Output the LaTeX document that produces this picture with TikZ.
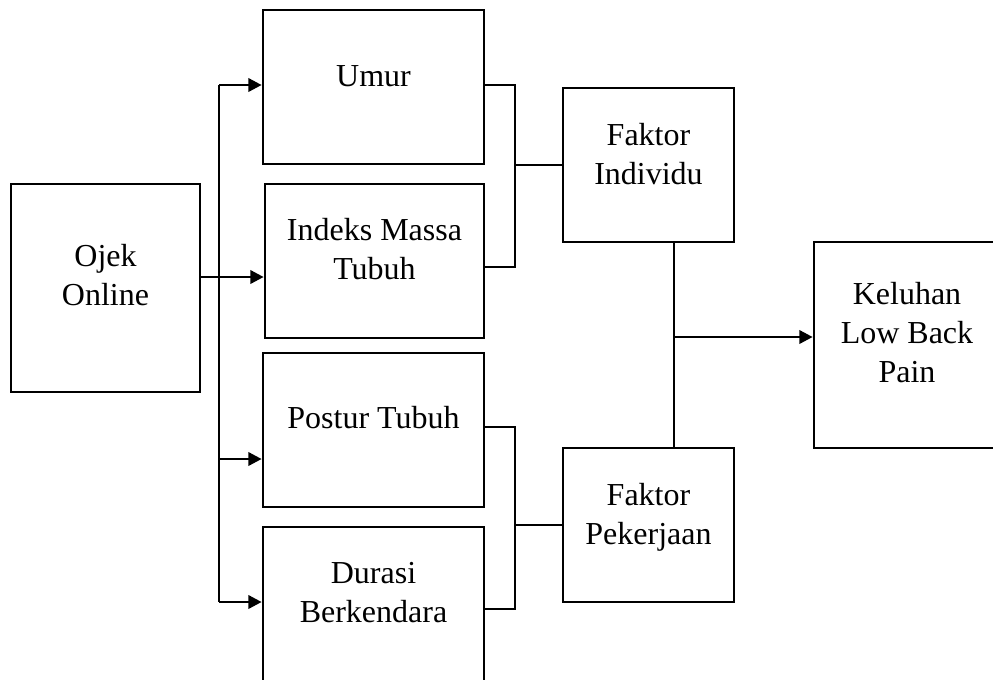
\documentclass[tikz,border=0pt]{standalone}
\usepackage{fontspec}
\setmainfont{Liberation Serif}
\usetikzlibrary{arrows.meta}
\begin{document}
\begin{tikzpicture}[x=0.75pt,y=-0.75pt,
  box/.style={draw, line width=2pt, inner sep=0pt, rectangle},
  lbl/.style={align=center, inner sep=0pt, font=\fontsize{24pt}{29.25pt}\selectfont},
  conn/.style={line width=2pt},
  arr/.style={line width=2pt, -{Triangle[length=10pt,width=10pt]}}
]
\useasboundingbox (0,0) rectangle (993,679);
\clip (0,0) rectangle (993,679);
% boxes
\node[box, minimum width=141.75pt, minimum height=156pt] (oj) at (105.5,288) {};
\node[box, minimum width=165.75pt, minimum height=115.5pt] (um) at (373.5,87) {};
\node[box, minimum width=164.25pt, minimum height=115.5pt] (im) at (374.5,261) {};
\node[box, minimum width=165.75pt, minimum height=115.5pt] (pt) at (373.5,430) {};
\node[box, minimum width=165.75pt, minimum height=115.5pt] (du) at (373.5,604) {};
\node[box, minimum width=128.25pt, minimum height=115.5pt] (fi) at (648.5,165) {};
\node[box, minimum width=128.25pt, minimum height=115.5pt] (fp) at (648.5,525) {};
\node[box, minimum width=139.5pt, minimum height=154.5pt] (kl) at (907,345) {};
% texts
\node[lbl] (toj) at (105.5,275.5) {Ojek\\Online};
\node[lbl] (tum) at (373.5,76.5) {Umur};
\node[lbl] (tim) at (374.5,249) {Indeks Massa\\Tubuh};
\node[lbl] (tpt) at (373.5,418) {Postur Tubuh};
\node[lbl] (tdu) at (373.5,592.5) {Durasi\\Berkendara};
\node[lbl] (tfi) at (648.5,154) {Faktor\\Individu};
\node[lbl] (tfp) at (648.5,517) {Faktor\\Pekerjaan};
\node[lbl] (tkl) at (907,332.5) {Keluhan\\Low Back\\Pain};
% helper coordinates
\coordinate (sx) at (219,0);
\coordinate (bx) at (515,0);
\coordinate (jx) at (674,0);
% left distribution
\draw[arr] (oj.east |- 0,277) -- (im.west |- 0,277);
\draw[conn] (sx |- um.west) ++(0,-2) coordinate (s1) -- (sx |- 0,602) coordinate (s4);
\draw[arr] (s1) -- (um.west |- s1);
\draw[arr] (sx |- 0,459) -- (pt.west |- 0,459);
\draw[arr] (s4) -- (du.west |- s4);
% bracket 1
\draw[conn] (um.east |- 0,85) -| (bx |- 0,267) -- (im.east |- 0,267);
\draw[conn] (bx |- fi.west) -- (fi.west);
% bracket 2
\draw[conn] (pt.east |- 0,427) -| (bx |- 0,609) -- (du.east |- 0,609);
\draw[conn] (bx |- fp.west) -- (fp.west);
% right
\draw[conn] (fi.south -| jx) -- (fp.north -| jx);
\draw[arr] (jx |- 0,337) -- (kl.west |- 0,337);
\end{tikzpicture}
\end{document}
